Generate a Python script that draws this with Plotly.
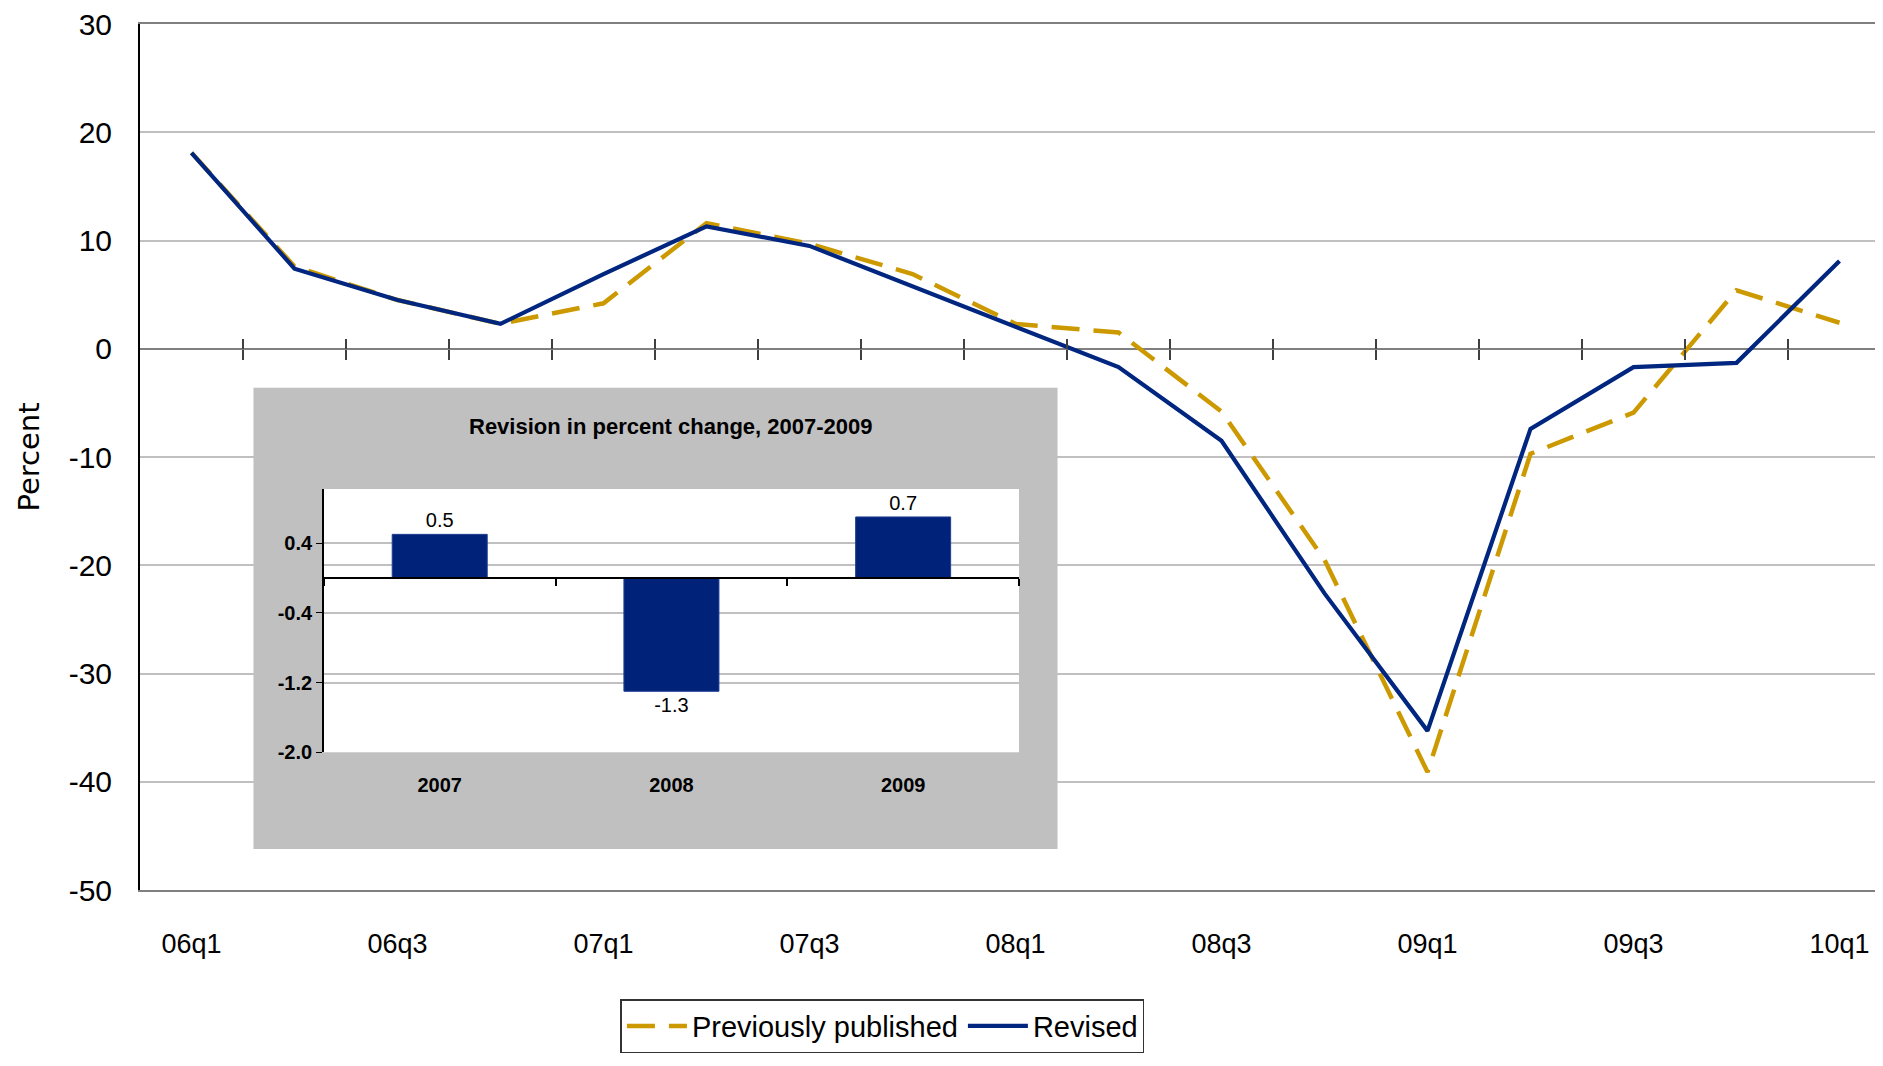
import plotly.graph_objects as go

# quarterly percent change
quarters = ['06q1', '06q2', '06q3', '06q4', '07q1', '07q2', '07q3', '07q4',
            '08q1', '08q2', '08q3', '08q4', '09q1', '09q2', '09q3', '09q4', '10q1']
previously_published = [18.1, 7.6, 4.5, 2.3, 4.2, 11.6, 9.7, 6.9,
                        2.3, 1.5, -5.8, -19.5, -39.1, -9.7, -5.9, 5.4, 2.4]
revised = [18.1, 7.4, 4.5, 2.3, 6.9, 11.3, 9.5, 5.8,
           2.1, -1.7, -8.5, -22.6, -35.3, -7.4, -1.7, -1.3, 8.1]
label_quarters = quarters[::2]
y_ticks = [30, 20, 10, 0, -10, -20, -30, -40, -50]

# inset: annual revisions
years = ['2007', '2008', '2009']
revision = [0.5, -1.3, 0.7]
inset_ticks = [-2.0, -1.2, -0.4, 0.4]

GOLD = '#CC9900'
NAVY = '#00267F'
SANS = 'Liberation Sans, Arial, sans-serif'

Y_MIN, Y_MAX = -50, 30
IN_MIN, IN_MAX = -2.0, 1.02
inset_dom_x = [0.105, 0.502]
inset_dom_y = [0.159, 0.463]

zero_main = (0 - Y_MIN) / (Y_MAX - Y_MIN)
zero_inset = inset_dom_y[0] + (0 - IN_MIN) / (IN_MAX - IN_MIN) * (inset_dom_y[1] - inset_dom_y[0])
boundaries = [i + 0.5 for i in range(len(quarters) - 1)]
year_bounds = [i - 0.5 for i in range(len(years) + 1)]

fig = go.Figure()
fig.add_trace(go.Scatter(x=quarters, y=previously_published, mode='lines',
                         name='Previously published',
                         line=dict(color=GOLD, width=4.5, dash='28px,14px')))
fig.add_trace(go.Scatter(x=quarters, y=revised, mode='lines', name='Revised',
                         line=dict(color=NAVY, width=4.2)))

fig.add_trace(go.Bar(x=years, y=revision, xaxis='x2', yaxis='y2', width=0.41,
                     marker=dict(color='#002379', line=dict(color='#1d3f92', width=1)),
                     text=revision, texttemplate='%{y:.1f}', textposition='outside',
                     textfont=dict(family=SANS, size=20, color='black'),
                     cliponaxis=False, showlegend=False))

# invisible helpers so the tick-only axes get drawn
for xa, ya, xs in [('x4', 'y', boundaries), ('x5', 'y', boundaries), ('x3', 'y2', year_bounds)]:
    fig.add_trace(go.Scatter(x=xs, y=[0] * len(xs), xaxis=xa, yaxis=ya, mode='markers',
                             marker=dict(opacity=0, size=1), hoverinfo='skip',
                             showlegend=False))

fig.update_layout(
    width=1883, height=1066,
    margin=dict(l=132, r=0, t=16, b=184),
    paper_bgcolor='white', plot_bgcolor='rgba(0,0,0,0)',
    font=dict(family=SANS, color='black'),
    xaxis=dict(type='category', range=[-0.5, len(quarters) - 0.5],
               tickvals=label_quarters, ticks='', showgrid=False,
               showline=True, mirror=True, linecolor='#808080', linewidth=2,
               tickfont=dict(size=27), ticklabelstandoff=29,
               zeroline=False),
    yaxis=dict(range=[Y_MIN, Y_MAX], tickvals=y_ticks,
               ticktext=[str(v) for v in y_ticks], ticks='', showgrid=True,
               gridcolor='#C0C0C0', gridwidth=2, zeroline=True,
               zerolinecolor='#808080', zerolinewidth=2,
               showline=True, linecolor='black', linewidth=2,
               tickfont=dict(size=30), ticklabelstandoff=20,
               ticklabeloverflow='allow',
               title=dict(text='Percent', standoff=20,
                          font=dict(family='DejaVu Sans', size=29))),
    # tick marks crossing the zero line, between quarters
    xaxis4=dict(overlaying='x', anchor='free', position=zero_main, type='linear',
                range=[-0.5, len(quarters) - 0.5], tickvals=boundaries,
                ticks='outside', ticklen=10, tickwidth=1.5, tickcolor='#404040',
                showticklabels=False, showgrid=False, zeroline=False, showline=False),
    xaxis5=dict(overlaying='x', anchor='free', position=zero_main, type='linear',
                range=[-0.5, len(quarters) - 0.5], tickvals=boundaries,
                ticks='inside', ticklen=10, tickwidth=1.5, tickcolor='#404040',
                showticklabels=False, showgrid=False, zeroline=False, showline=False),
    # inset axes
    xaxis2=dict(domain=inset_dom_x, anchor='y2', type='category',
                range=[-0.5, 2.5], ticks='', showgrid=False, showline=False,
                zeroline=False, ticklabelstandoff=19,
                tickfont=dict(size=20, weight='bold')),
    yaxis2=dict(domain=inset_dom_y, anchor='x2', range=[IN_MIN, IN_MAX],
                tickvals=inset_ticks, ticktext=['%.1f' % v for v in inset_ticks],
                ticks='outside', ticklen=6, tickcolor='black',
                showgrid=True, gridcolor='#C0C0C0', gridwidth=2, zeroline=False,
                showline=True, linecolor='black', linewidth=1.5,
                tickfont=dict(size=20, weight='bold')),
    xaxis3=dict(overlaying='x2', anchor='free', position=zero_inset, type='linear',
                range=[-0.5, 2.5], tickvals=year_bounds,
                ticks='outside', ticklen=7, tickcolor='black', tickwidth=1.5,
                showticklabels=False, showgrid=False, zeroline=False,
                showline=True, linecolor='black', linewidth=2),
    legend=dict(orientation='h', x=0.424, xanchor='center', y=-0.126, yanchor='top',
                bordercolor='#333333', borderwidth=1.5, bgcolor='white',
                font=dict(size=29), itemwidth=60),
    shapes=[
        dict(type='rect', xref='paper', yref='paper', x0=0.0648, x1=0.524,
             y0=0.0473, y1=0.580, fillcolor='#C0C0C0', line=dict(width=0),
             layer='between'),
        dict(type='rect', xref='paper', yref='paper',
             x0=inset_dom_x[0], x1=inset_dom_x[1],
             y0=inset_dom_y[0], y1=inset_dom_y[1],
             fillcolor='white', line=dict(width=0), layer='between'),
    ],
    annotations=[
        dict(text='<b>Revision in percent change, 2007-2009</b>', xref='paper',
             yref='paper', x=sum(inset_dom_x) / 2, y=0.535, xanchor='center',
             yanchor='middle', showarrow=False, font=dict(size=22)),
    ],
)

fig.write_html('out.html')
